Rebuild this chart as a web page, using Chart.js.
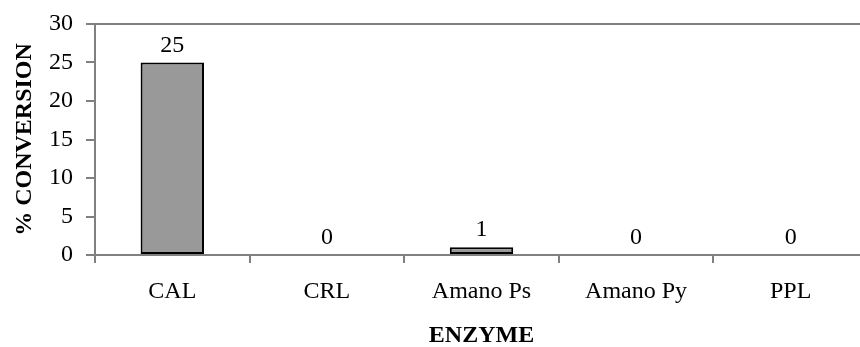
<!DOCTYPE html>
<html>
<head>
<meta charset="utf-8">
<script src="https://cdn.jsdelivr.net/npm/chart.js@4/dist/chart.umd.min.js"></script>
<style>
  html, body { margin: 0; padding: 0; background: #fff; overflow: hidden; }
  #wrap { width: 860px; height: 347px; overflow: hidden; }
</style>
</head>
<body>
<div id="wrap"><canvas id="myChart" width="868" height="347"></canvas></div>
<script>
const enzymes = ['CAL', 'CRL', 'Amano Ps', 'Amano Py', 'PPL'];
const conversion = [25, 0, 1, 0, 0];
const yTicks = [0, 5, 10, 15, 20, 25, 30];

const serif = '"Liberation Serif", "Times New Roman", serif';
const axisGray = '#808080';

// value labels above each bar
const barLabels = {
  id: 'barLabels',
  afterDatasetsDraw(chart) {
    const ctx = chart.ctx;
    const meta = chart.getDatasetMeta(0);
    ctx.save();
    ctx.font = '24px ' + serif;
    ctx.fillStyle = '#000';
    ctx.textAlign = 'center';
    ctx.textBaseline = 'alphabetic';
    meta.data.forEach((bar, i) => {
      ctx.fillText(String(conversion[i]), bar.x, bar.y - 11);
    });
    ctx.restore();
  }
};

new Chart(document.getElementById('myChart').getContext('2d'), {
  type: 'bar',
  data: {
    labels: enzymes,
    datasets: [{
      data: conversion,
      backgroundColor: '#999999',
      borderColor: '#000000',
      borderWidth: 2,
      borderSkipped: false,
      categoryPercentage: 1,
      barPercentage: 0.41
    }]
  },
  options: {
    responsive: false,
    animation: false,
    layout: { padding: { top: 24, left: 0, right: 0, bottom: 0 } },
    plugins: {
      legend: { display: false },
      tooltip: { enabled: false }
    },
    scales: {
      x: {
        afterFit(scale) { scale.height = 92; },
        grid: {
          offset: true,
          drawOnChartArea: false,
          tickLength: 8,
          tickColor: axisGray,
          lineWidth: 2
        },
        border: { color: axisGray, width: 2 },
        ticks: {
          color: '#000',
          padding: 14,
          maxRotation: 0,
          font: { family: serif, size: 24 }
        },
        title: {
          display: true,
          text: 'ENZYME',
          color: '#000',
          padding: { top: 0, bottom: 0 },
          font: { family: serif, size: 24, weight: 'bold', lineHeight: 0.9 }
        }
      },
      y: {
        min: 0,
        max: 30,
        afterFit(scale) {
          scale.width = 95;
          scale.paddingTop = 0;
          scale.paddingBottom = 0;
        },
        afterBuildTicks(scale) { scale.ticks = yTicks.map(v => ({ value: v })); },
        grid: {
          drawOnChartArea: true,
          color: ctx => (ctx.tick && ctx.tick.value === 30) ? axisGray : 'rgba(0,0,0,0)',
          tickColor: axisGray,
          tickLength: 9,
          lineWidth: 2
        },
        border: { color: axisGray, width: 2 },
        ticks: {
          color: '#000',
          padding: 13,
          font: { family: serif, size: 24 }
        },
        title: {
          display: true,
          text: '% CONVERSION',
          color: '#000',
          padding: { top: 10, bottom: 0 },
          font: { family: serif, size: 24, weight: 'bold' }
        }
      }
    }
  },
  plugins: [barLabels]
});
</script>
</body>
</html>
